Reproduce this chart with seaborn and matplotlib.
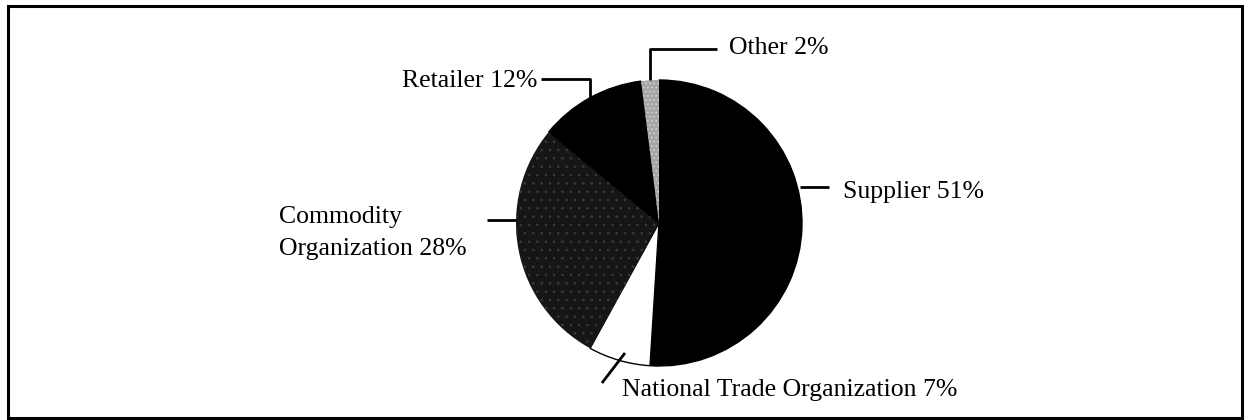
import numpy as np
import seaborn as sns
import matplotlib.pyplot as plt
from matplotlib.patches import Rectangle

# %%
labels = ['Supplier 51%', 'National Trade Organization 7%', 'Commodity\nOrganization 28%',
          'Retailer 12%', 'Other 2%']
shares = [51, 7, 28, 12, 2]
colors = ['#000000', '#ffffff', '#161616', '#000000', '#a6a6a6']

sns.set_theme(style='white')
plt.rcParams['font.family'] = ['Liberation Serif', 'DejaVu Serif']
plt.rcParams['text.color'] = 'black'
plt.rcParams['hatch.linewidth'] = 0.6

# %%
W, H = 1245, 420
fig = plt.figure(figsize=(W / 100, H / 100), dpi=100)
fig.patch.set_facecolor('white')

# pie axes: centre (659, 223) px, radius 143 px
cx, cy, r = 659, 223, 143
ax = fig.add_axes([(cx - r) / W, (H - cy - r) / H, 2 * r / W, 2 * r / H])
wedges, _ = ax.pie(shares, colors=colors, startangle=90, counterclock=False,
                   wedgeprops=dict(edgecolor='black', linewidth=1.0))
wedges[2].set_hatch('..')
wedges[2].set_edgecolor('#3c3c3c')
wedges[2].set_linewidth(0)
wedges[4].set_hatch('....')
wedges[4].set_edgecolor('#d8d8d8')
wedges[4].set_linewidth(0)
ax.set_xlim(-1, 1)
ax.set_ylim(-1, 1)
ax.set_aspect('equal')
ax.axis('off')

# slice mid angles (clockwise from top) to anchor the leaders
cum = np.cumsum([0] + shares)
mid = np.deg2rad(90 - (cum[:-1] + cum[1:]) / 2 * 3.6)
mx, my = np.cos(mid), np.sin(mid)

lw = 2.0
fs = 18.5
kw = dict(color='black', lw=lw, clip_on=False, solid_capstyle='butt')

# Other
ax.plot([mx[4], mx[4], 0.406], [my[4], 1.217, 1.217], **kw)
ax.text(0.49, 1.225, labels[4], fontsize=fs, va='center', ha='left')

# Retailer
ax.plot([mx[3], mx[3], -0.825], [my[3], 1.007, 1.007], **kw)
ax.text(-0.853, 0.99, labels[3], fontsize=fs, va='center', ha='right')

# Commodity
ax.plot([-1.0, -1.2], [0.02, 0.02], **kw)
ax.text(-2.66, -0.07, labels[2], fontsize=fs, va='center', ha='left', linespacing=1.55)

# Supplier
ax.plot([0.986, 1.19], [0.25, 0.25], **kw)
ax.text(1.29, 0.22, labels[0], fontsize=fs, va='center', ha='left')

# National Trade
ax.plot([-0.238, -0.399], [-0.909, -1.119], **kw)
ax.text(-0.259, -1.17, labels[1], fontsize=fs, va='center', ha='left')

# outer frame
fig.add_artist(Rectangle((8 / W, 2 / H), 1234 / W, 412 / H, transform=fig.transFigure,
                         fill=False, edgecolor='black', linewidth=2.2))

fig.savefig('out.png', dpi=100)
